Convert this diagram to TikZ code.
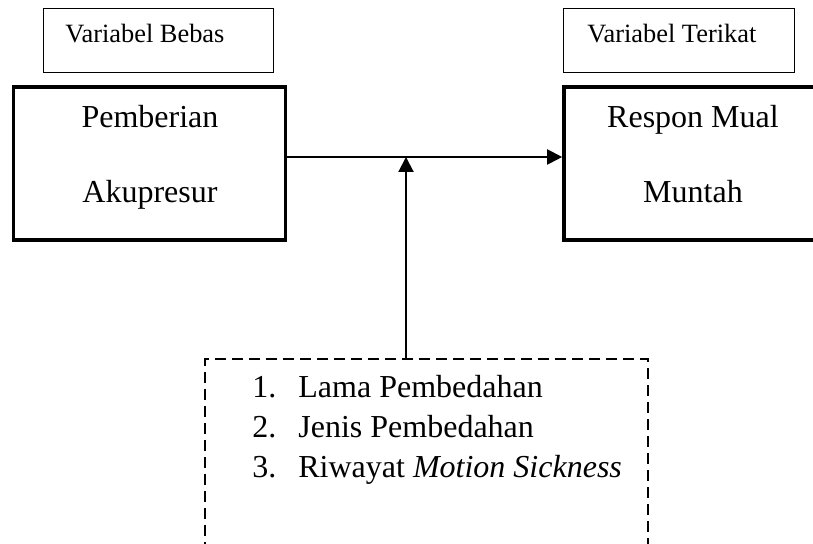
\documentclass[tikz,border=0pt]{standalone}
\usepackage{fontspec}
\setmainfont{Liberation Serif}
\usetikzlibrary{arrows.meta}
\begin{document}
\begin{tikzpicture}[x=0.5pt,y=-0.5pt,
  thinbox/.style={draw,line width=0.5pt,inner sep=0pt},
  thickbox/.style={draw,line width=1.8pt,inner sep=0pt},
  dashbox/.style={draw,line width=0.85pt,dash pattern=on 5.5pt off 3pt,inner sep=0pt},
  small/.style={font=\fontsize{13.2}{16}\selectfont,inner sep=0pt,anchor=base west},
  big/.style={font=\fontsize{16}{19}\selectfont,inner sep=0pt,anchor=base},
  item/.style={font=\fontsize{16}{19}\selectfont,inner sep=0pt,anchor=base west},
  conn/.style={line width=1pt,-{Triangle[length=7.5pt,width=7.5pt]}}]
\useasboundingbox (0,0) rectangle (813,544);
\clip (0,0) rectangle (813,544);
% top label boxes
\node[thinbox,minimum width=115pt,minimum height=32pt] (vb) at (158,41) {};
\node[small] (vbt) at (65,43) {Variabel Bebas};
\node[thinbox,minimum width=115.5pt,minimum height=32pt] (vt) at (678.5,41) {};
\node[small] (vtt) at (587,43) {Variabel Terikat};
% main boxes
\node[thickbox,minimum width=136pt,minimum height=76.5pt] (pa) at (149.5,163.5) {};
\node[big] (pa1) at (150,128) {Pemberian};
\node[big] (pa2) at (150,203) {Akupresur};
\node[thickbox,minimum width=129pt,minimum height=76.5pt] (rm) at (693,163.5) {};
\node[big] (rm1) at (693,128) {Respon Mual};
\node[big] (rm2) at (693,203) {Muntah};
% dashed box
\node[dashbox,minimum width=221.5pt,minimum height=120pt] (db) at (426.5,479) {};
\node[item] (n1) at (252,398) {1.};
\node[item] (t1) at (298,398) {Lama Pembedahan};
\node[item] (n2) at (252,438) {2.};
\node[item] (t2) at (298,438) {Jenis Pembedahan};
\node[item] (n3) at (252,478) {3.};
\node[item] (t3) at (298,478) {Riwayat \textit{Motion Sickness}};
% connectors
\coordinate (j) at (406,157);
\draw[conn] (pa.east |- j) -- (rm.west |- j);
\draw[conn] (j |- db.north) -- (j);
\end{tikzpicture}
\end{document}
